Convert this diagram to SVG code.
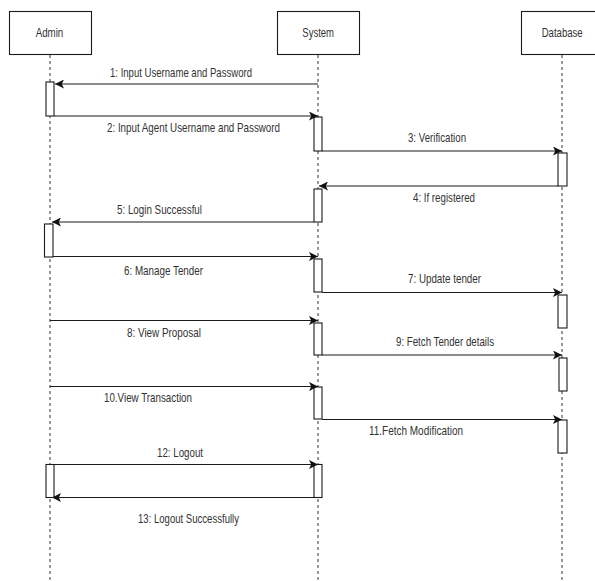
<svg xmlns="http://www.w3.org/2000/svg" width="595" height="581" viewBox="0 0 595 581">
  <style>
    .box { fill: #ffffff; stroke: #1a1a1a; stroke-width: 1.1; }
    .life { stroke: #333333; stroke-width: 1; stroke-dasharray: 3 3; fill: none; }
    .act { fill: #ffffff; stroke: #1a1a1a; stroke-width: 1.1; }
    .msg { stroke: #1a1a1a; stroke-width: 1.2; fill: none; marker-end: url(#arrow); }
    .lbl { font-family: "Liberation Sans", Arial, sans-serif; font-size: 13px; fill: #333333; }
  </style>
  <defs>
    <marker id="arrow" markerUnits="userSpaceOnUse" markerWidth="10" markerHeight="9" viewBox="0 0 10 9" refX="9" refY="4.5" orient="auto">
      <path d="M0,0 L9,4.5 L0,9 L2.2,4.5 Z" fill="#111111"/>
    </marker>
  </defs>
  <rect width="595" height="581" fill="#ffffff"/>

  <g id="admin">
    <rect class="box" x="9.5" y="11.5" width="82" height="43"/>
    <text class="lbl" x="35.7" y="36.7" textLength="27.6" lengthAdjust="spacingAndGlyphs">Admin</text>
    <line class="life" x1="50" y1="55" x2="50" y2="581"/>
  </g>
  <g id="system">
    <rect class="box" x="277.5" y="11.5" width="82" height="43"/>
    <text class="lbl" x="302.3" y="36.7" textLength="31.7" lengthAdjust="spacingAndGlyphs">System</text>
    <line class="life" x1="318" y1="55" x2="318" y2="581"/>
  </g>
  <g id="database">
    <rect class="box" x="521.5" y="11.5" width="82" height="43"/>
    <text class="lbl" x="541.7" y="36.7" textLength="41" lengthAdjust="spacingAndGlyphs">Database</text>
    <line class="life" x1="562" y1="55" x2="562" y2="581"/>
  </g>

  <g id="activations">
    <rect class="act" x="46" y="82" width="8" height="34"/>
    <rect class="act" x="44.5" y="224" width="8.5" height="33"/>
    <rect class="act" x="46" y="464.5" width="8" height="33"/>
    <rect class="act" x="314" y="117" width="8" height="34"/>
    <rect class="act" x="314" y="189" width="8" height="33"/>
    <rect class="act" x="314" y="259" width="8" height="33"/>
    <rect class="act" x="314" y="323" width="8" height="32"/>
    <rect class="act" x="314" y="387" width="8" height="32"/>
    <rect class="act" x="314" y="464.5" width="8" height="33"/>
    <rect class="act" x="558" y="153" width="9" height="33"/>
    <rect class="act" x="558" y="295" width="9" height="33"/>
    <rect class="act" x="559" y="358" width="8" height="33"/>
    <rect class="act" x="558" y="420" width="9" height="33"/>
  </g>

  <g id="connectors">
    <line class="msg" x1="318" y1="84" x2="55" y2="84"/>
    <line class="msg" x1="54" y1="116" x2="318" y2="116"/>
    <line class="msg" x1="322" y1="151" x2="562" y2="151"/>
    <line class="msg" x1="558" y1="186" x2="319" y2="186"/>
    <line class="msg" x1="314" y1="222" x2="52" y2="222"/>
    <line class="msg" x1="53" y1="256.5" x2="318" y2="256.5"/>
    <line class="msg" x1="322" y1="292.5" x2="562" y2="292.5"/>
    <line class="msg" x1="50" y1="320.5" x2="318" y2="320.5"/>
    <line class="msg" x1="322" y1="355" x2="562" y2="355"/>
    <line class="msg" x1="50" y1="386.5" x2="318" y2="386.5"/>
    <line class="msg" x1="322" y1="419.5" x2="562" y2="419.5"/>
    <line class="msg" x1="54" y1="464.5" x2="318" y2="464.5"/>
    <line class="msg" x1="314" y1="497.5" x2="52" y2="497.5"/>
  </g>

  <g id="labels">
    <text class="lbl" x="110" y="76.5" textLength="142" lengthAdjust="spacingAndGlyphs">1: Input Username and Password</text>
    <text class="lbl" x="107" y="131.5" textLength="173" lengthAdjust="spacingAndGlyphs">2: Input Agent Username and Password</text>
    <text class="lbl" x="408" y="141.5" textLength="58" lengthAdjust="spacingAndGlyphs">3: Verification</text>
    <text class="lbl" x="413" y="202" textLength="62" lengthAdjust="spacingAndGlyphs">4: If registered</text>
    <text class="lbl" x="117" y="213.5" textLength="85" lengthAdjust="spacingAndGlyphs">5: Login Successful</text>
    <text class="lbl" x="124" y="274.5" textLength="79" lengthAdjust="spacingAndGlyphs">6: Manage Tender</text>
    <text class="lbl" x="408" y="282.5" textLength="73" lengthAdjust="spacingAndGlyphs">7: Update tender</text>
    <text class="lbl" x="127" y="336.5" textLength="74" lengthAdjust="spacingAndGlyphs">8: View Proposal</text>
    <text class="lbl" x="396" y="346" textLength="98" lengthAdjust="spacingAndGlyphs">9: Fetch Tender details</text>
    <text class="lbl" x="104" y="402" textLength="88" lengthAdjust="spacingAndGlyphs">10.View Transaction</text>
    <text class="lbl" x="369" y="434.5" textLength="94" lengthAdjust="spacingAndGlyphs">11.Fetch Modification</text>
    <text class="lbl" x="157" y="457" textLength="46" lengthAdjust="spacingAndGlyphs">12: Logout</text>
    <text class="lbl" x="138" y="523" textLength="101" lengthAdjust="spacingAndGlyphs">13: Logout Successfully</text>
  </g>
</svg>
